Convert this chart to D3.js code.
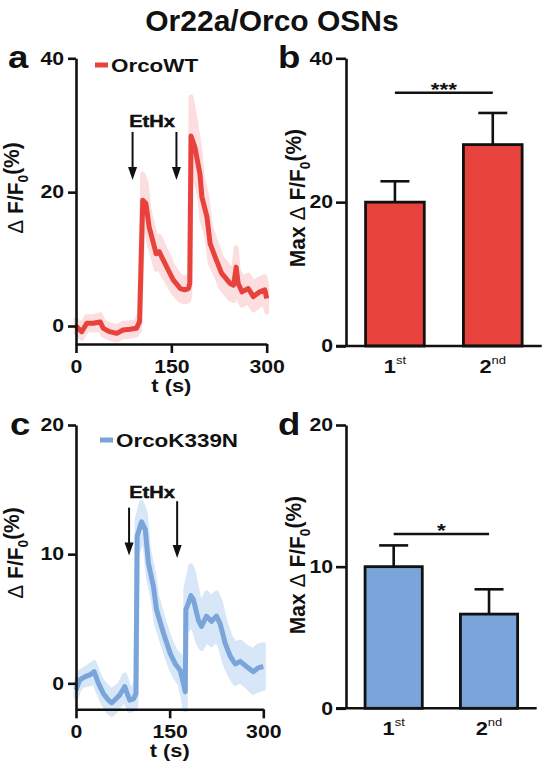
<!DOCTYPE html>
<html><head><meta charset="utf-8">
<script src="https://cdn.jsdelivr.net/npm/d3@7"></script>
<style>body{margin:0;background:#fff}svg{display:block;background:#fff}text{font-family:"Liberation Sans",Arial,Helvetica,sans-serif;font-weight:bold;fill:#111}</style>
</head><body><svg id="c" width="545" height="767"></svg>
<script>
// ---------- data ----------
const title = "Or22a/Orco OSNs";
const xTicks = [0, 150, 300];

// Panel a: OrcoWT trace (time s, ΔF/F0 %, SEM)
const timeWT = [0,9,17,27,38,43,53,64,74,85,95,100,105,110,115,122,126,131,137,145,153,164,171,177,179,181,187,195,198,206,211,219,229,242,248,252,255,261,271,279,289,297,300];
const valWT  = [0,-0.85,0.4,0.4,0.6,-0.35,-0.85,-1.1,-0.6,-0.5,-0.35,0.65,18.8,18.3,14.8,12.3,10.8,11.1,9.9,8.4,6.9,5.6,5.4,5.6,6.4,28.4,26.7,22.7,19.3,16.3,12.3,10.3,7.9,6.4,6.1,8.8,6.4,5.1,5.6,4.4,5.1,5.4,4.1];
const semWT  = [1.0,1.0,1.0,1.0,1.1,1.0,1.0,1.0,1.0,1.0,1.0,1.2,3.9,3.2,2.5,2.3,2.3,2.3,2.3,2.1,1.9,1.8,1.8,1.8,1.8,5.8,4.4,3.5,3.3,3.0,2.8,2.5,2.3,2.3,2.3,2.9,2.1,2.0,2.0,2.0,2.0,2.0,2.0];
const yTicksA = [0, 20, 40];
const arrowsA = [89, 158];

// Panel b: max ΔF/F0 WT
const pulses = ["1st", "2nd"];
const maxWT = [20.0, 28.0];
const maxWTsem = [2.9, 4.4];
const sigB = {value: 35.2, label: "***"};

// Panel c: OrcoK339N trace
const timeKN = [0,6,14,22,29,36,44,52,57,62,70,78,86,92,96,98,105,111,116,124,129,140,151,159,167,172,175,176,180,184,188,196,201,209,217,225,231,239,247,255,263,273,284,292,300];
const valKN  = [-0.5,0.26,0.5,0.65,0.9,0,-0.8,-1.3,-1.5,-1.3,-0.9,-0.26,-1.3,-1.2,-0.8,11.4,12.5,11.9,9.3,7.5,5.7,3.9,2.3,1.5,1.0,0,-0.65,5.7,6.2,6.8,6.5,4.9,4.4,5.2,4.8,5.2,4.6,3.1,2.1,1.5,1.7,1.3,0.9,1.2,1.3];
const semKN  = [0.6,0.6,0.6,0.7,0.7,0.7,0.8,0.9,0.9,0.9,0.8,0.9,0.8,0.8,1.0,1.3,1.5,1.3,1.1,1.1,1.1,1.0,1.0,1.0,1.1,1.2,1.4,1.7,2.0,2.3,2.1,1.8,1.7,1.8,1.8,1.8,1.7,1.6,1.5,1.5,1.5,1.5,1.6,1.7,1.7];
const yTicksC = [0, 10, 20];
const arrowsC = [85, 162];

// Panel d: max ΔF/F0 K339N
const maxKN = [10.0, 6.65];
const maxKNsem = [1.5, 1.75];
const sigD = {value: 12.3, label: "*"};

// ---------- drawing ----------
const svg = d3.select("#c");
const SX = 1.18;
const RED = "#e8423c", RED_BAND = "#fcdde0", BLUE = "#7aa5db", BLUE_BAND = "#d7e7f8";

function stretch(sel){
  sel.each(function(){
    const t = d3.select(this);
    const x = +t.attr("x") || 0, y = +t.attr("y") || 0;
    t.attr("transform", `translate(${x},${y}) scale(${SX},1) translate(${-x},${-y})`);
  });
}
function styleAxis(a, fs){
  a.select(".domain").attr("stroke","#111").attr("stroke-width",2.6);
  a.selectAll(".tick line").attr("stroke","#111").attr("stroke-width",2.6);
  a.selectAll(".tick text").attr("font-size",fs).attr("font-family",'"Liberation Sans",Arial,sans-serif').attr("font-weight","bold").attr("fill","#111");
  stretch(a.selectAll(".tick text"));
}
function yLabel(g, cx, cy, prefix){
  const t = g.append("text").attr("transform",`translate(${cx},${cy}) rotate(-90) scale(1.05,1.12)`)
    .attr("text-anchor","middle").attr("font-size",20).attr("dy","0.35em");
  if (prefix) t.append("tspan").text(prefix);
  t.append("tspan").attr("font-weight","normal").text("\u0394");
  t.append("tspan").text(" F/F");
  t.append("tspan").attr("font-size",13).attr("dy",5).text("0");
  t.append("tspan").attr("dy",-8).text("(%)");
}
function panelLetter(x, y, s){
  svg.append("text").attr("x",x).attr("y",y).attr("font-size",31).text(s).call(stretch);
}

function tracePanel(cfg){
  const g = svg.append("g");
  const x = d3.scaleLinear().domain([0,300]).range(cfg.xr);
  const y = d3.scaleLinear().domain(cfg.yd).range(cfg.yr);
  const pts = cfg.t.map((t,i)=>({t, v:cfg.v[i], e:cfg.e[i]}));
  g.append("path").datum(pts)
    .attr("d", d3.area().x(d=>x(d.t)).y0(d=>y(d.v-d.e)).y1(d=>y(d.v+d.e)))
    .attr("fill", cfg.band).attr("stroke", cfg.band).attr("stroke-width", 5).attr("stroke-linejoin","round");
  g.append("path").datum(pts)
    .attr("d", d3.line().x(d=>x(d.t)).y(d=>y(d.v)))
    .attr("fill","none").attr("stroke",cfg.color).attr("stroke-width",5)
    .attr("stroke-linejoin","round").attr("stroke-linecap","butt");

  const ya = g.append("g").attr("transform",`translate(${cfg.xr[0]},0)`)
    .call(d3.axisLeft(y).tickValues(cfg.yticks).tickSize(8).tickSizeOuter(0).tickPadding(4).tickFormat(d3.format("d")));
  styleAxis(ya, 18);
  const xa = g.append("g").attr("transform",`translate(0,${cfg.yr[0]})`)
    .call(d3.axisBottom(x).tickValues(xTicks).tickSize(9).tickSizeOuter(0).tickPadding(7).tickFormat(d3.format("d")));
  styleAxis(xa, 18);

  g.append("text").attr("x", x(150)).attr("y", cfg.yr[0] + 48).attr("text-anchor","middle")
    .attr("font-size",18.5).text("t (s)").call(stretch);
  yLabel(g, 15, cfg.ylabelY, "");

  // legend
  g.append("line").attr("x1",cfg.legX).attr("x2",cfg.legX+13).attr("y1",cfg.legY).attr("y2",cfg.legY)
    .attr("stroke",cfg.color).attr("stroke-width",5);
  g.append("text").attr("x",cfg.legX+16).attr("y",cfg.legY+7).attr("font-size",19).text(cfg.legend).call(stretch);

  // stimulus arrows
  cfg.arrows.forEach(a=>{
    const ax = x(a.t), top = y(a.top), tip = y(a.tip);
    g.append("line").attr("x1",ax).attr("x2",ax).attr("y1",top).attr("y2",tip-10).attr("stroke","#111").attr("stroke-width",2);
    g.append("path").attr("d",`M${ax-4.5},${tip-13}L${ax+4.5},${tip-13}L${ax},${tip}Z`).attr("fill","#111");
  });
  g.append("text").attr("x", cfg.stimX).attr("y", cfg.stimY).attr("text-anchor","middle")
    .attr("font-size",17).attr("font-weight","normal").attr("stroke","#111").attr("stroke-width",0.5)
    .text("EtHx").call(stretch);
}

function barPanel(cfg){
  const g = svg.append("g");
  const x = d3.scaleBand().domain(pulses).range(cfg.xr).paddingInner(0.4).paddingOuter(0.2);
  const y = d3.scaleLinear().domain(cfg.yd).range(cfg.yr);
  const bw = x.bandwidth();
  const data = pulses.map((p,i)=>({p, v:cfg.v[i], e:cfg.e[i]}));
  g.selectAll(".err").data(data).join("line")
    .attr("x1",d=>x(d.p)+bw/2).attr("x2",d=>x(d.p)+bw/2)
    .attr("y1",d=>y(d.v)).attr("y2",d=>y(d.v+d.e)).attr("stroke","#111").attr("stroke-width",2.6);
  g.selectAll(".cap").data(data).join("line")
    .attr("x1",d=>x(d.p)+bw/2-14.5).attr("x2",d=>x(d.p)+bw/2+14.5)
    .attr("y1",d=>y(d.v+d.e)).attr("y2",d=>y(d.v+d.e)).attr("stroke","#111").attr("stroke-width",2.6);
  g.selectAll("rect").data(data).join("rect")
    .attr("x",d=>x(d.p)).attr("y",d=>y(d.v)).attr("width",bw).attr("height",d=>y(0)-y(d.v))
    .attr("fill",cfg.color).attr("stroke","#111").attr("stroke-width",2.8);

  const ya = g.append("g").attr("transform",`translate(${cfg.xr[0]},0)`)
    .call(d3.axisLeft(y).tickValues(cfg.yticks).tickSize(10).tickSizeOuter(0).tickPadding(3).tickFormat(d3.format("d")));
  styleAxis(ya, 18);
  g.append("line").attr("x1",cfg.xr[0]-10).attr("x2",cfg.xr[1]).attr("y1",y(0)).attr("y2",y(0))
    .attr("stroke","#111").attr("stroke-width",2.6);

  data.forEach(d=>{
    const t = g.append("text").attr("x", x(d.p)+bw/2).attr("y", y(0)+27).attr("text-anchor","middle").attr("font-size",18.5);
    t.append("tspan").text(d.p.slice(0,1));
    t.append("tspan").attr("font-size",11).attr("font-weight","normal").attr("dy",-9).text(d.p.slice(1));
    stretch(t);
  });

  const c1 = x(pulses[0])+bw/2, c2 = x(pulses[1])+bw/2;
  g.append("line").attr("x1",c1).attr("x2",c2).attr("y1",y(cfg.sig.value)).attr("y2",y(cfg.sig.value))
    .attr("stroke","#111").attr("stroke-width",2.4);
  g.append("text").attr("x",(c1+c2)/2).attr("y",y(cfg.sig.value)+3).attr("text-anchor","middle")
    .attr("font-size",19).text(cfg.sig.label).call(stretch);

  yLabel(g, 297, cfg.ylabelY, "Max ");
}

svg.append("text").attr("x",272).attr("y",31).attr("text-anchor","middle").attr("font-size",30).text(title);

tracePanel({xr:[76,266.7], yd:[-2.69,40], yr:[344,58.3], t:timeWT, v:valWT, e:semWT, color:RED, band:RED_BAND,
  yticks:yTicksA, ylabelY:188, legX:95, legY:65, legend:"OrcoWT",
  arrows:[{t:arrowsA[0], top:29, tip:21.8},{t:arrowsA[1], top:29, tip:21.8}], stimX:152, stimY:127});
barPanel({xr:[346,541.7], yd:[0,40], yr:[346,58.3], v:maxWT, e:maxWTsem, color:RED, yticks:yTicksA, sig:sigB, ylabelY:198});

tracePanel({xr:[76,263.3], yd:[-2.01,20], yr:[709.3,425], t:timeKN, v:valKN, e:semKN, color:BLUE, band:BLUE_BAND,
  yticks:yTicksC, ylabelY:553, legX:100, legY:440, legend:"OrcoK339N",
  arrows:[{t:arrowsC[0], top:13.6, tip:9.9},{t:arrowsC[1], top:14.1, tip:9.7}], stimX:152, stimY:498});
barPanel({xr:[346,536.7], yd:[0,20], yr:[708.3,425], v:maxKN, e:maxKNsem, color:BLUE, yticks:yTicksC, sig:sigD, ylabelY:565});

panelLetter(8, 68, "a");
panelLetter(278, 68, "b");
panelLetter(10, 435, "c");
panelLetter(278, 435, "d");
</script></body></html>
